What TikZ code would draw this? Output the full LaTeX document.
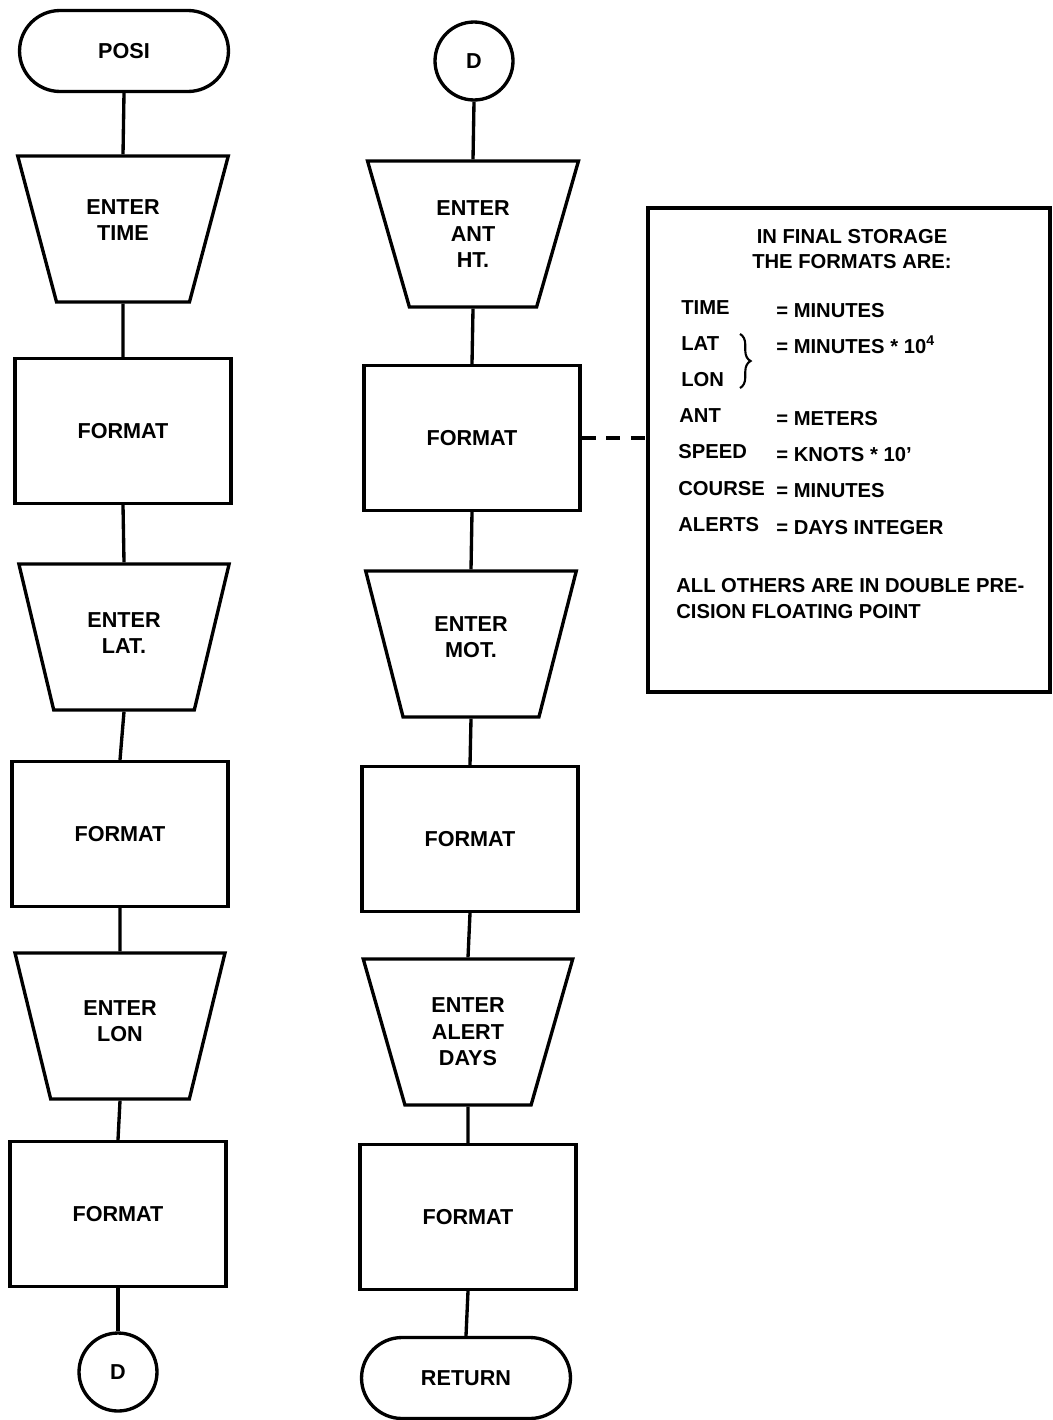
\documentclass[tikz,border=0pt]{standalone}
\usepackage{fontspec}
\setmainfont{Liberation Sans}
\usetikzlibrary{positioning,shapes.geometric,shapes.misc,decorations.pathreplacing}

\tikzset{
  flow/.style={draw, line width=1.9pt, align=center, inner sep=2pt,
    font=\fontsize{12.3}{15}\selectfont\bfseries},
  termbox/.style={flow, rounded rectangle, minimum width=4.32cm, minimum height=1.62cm},
  enterbox/.style={flow, trapezium, shape border rotate=180,
    trapezium left angle=70.5, trapezium right angle=70.5, trapezium stretches=true,
    minimum width=4.22cm, minimum height=2.92cm},
  formatbox/.style={flow, rectangle, minimum width=4.32cm, minimum height=2.9cm},
  connbox/.style={flow, circle, minimum size=1.56cm},
  link/.style={line width=1.9pt},
  notetext/.style={font=\fontsize{11.5}{14.5}\selectfont\bfseries, inner sep=0pt},
}

\begin{document}
\begin{tikzpicture}[x=0.02cm, y=-0.02cm]
  \useasboundingbox (0,0) rectangle (1052,1420);

  % Left column
  \node[termbox]   (posi) at (124,51)   {POSI};
  \node[enterbox]  (t1)   at (123,229)  {ENTER\\TIME\\[-4.8pt]};
  \node[formatbox] (f1)   at (123,431)  {FORMAT};
  \node[enterbox]  (t2)   at (124,637)  {ENTER\\LAT.\\[-10.5pt]};
  \node[formatbox] (f2)   at (120,834)  {FORMAT};
  \node[enterbox]  (t3)   at (120,1026) {ENTER\\LON\\[-9.3pt]};
  \node[formatbox] (f3)   at (118,1214) {FORMAT};
  \node[connbox]   (d1)   at (118,1372) {D};

  % Right column
  \node[connbox]   (d2)   at (474,61)   {D};
  \node[enterbox]  (t4)   at (473,234)  {ENTER\\ANT\\HT.};
  \node[formatbox] (f4)   at (472,438)  {FORMAT};
  \node[enterbox]  (t5)   at (471,644)  {ENTER\\MOT.\\[-7pt]};
  \node[formatbox] (f5)   at (470,839)  {FORMAT};
  \node[enterbox]  (t6)   at (468,1032) {ENTER\\ALERT\\DAYS};
  \node[formatbox] (f6)   at (468,1217) {FORMAT};
  \node[termbox]   (ret)  at (466,1378) {RETURN};

  % Flow lines
  \foreach \a/\b in {posi/t1, t1/f1, f1/t2, t2/f2, f2/t3, t3/f3, f3/d1,
                     d2/t4, t4/f4, f4/t5, t5/f5, f5/t6, t6/f6, f6/ret}
    \draw[link] (\a.south) -- (\b.north);

  % Storage note
  \node[draw, line width=1.9pt, minimum width=8.04cm, minimum height=9.68cm] (note) at (849,450) {};
  \draw[link, dash pattern=on 8pt off 6pt] (f4.east) -- (f4.east -| note.west);

  \node[notetext, align=center] (title) at (852,249) {IN FINAL STORAGE\\THE FORMATS ARE:};
  \node[notetext, anchor=base west] (ktime)   at (681,314) {TIME};
  \node[notetext, anchor=base west] (klat)    at (681,350) {LAT};
  \node[notetext, anchor=base west] (klon)    at (681,386) {LON};
  \node[notetext, anchor=base west] (kant)    at (679,422) {ANT};
  \node[notetext, anchor=base west] (kspeed)  at (678,458) {SPEED};
  \node[notetext, anchor=base west] (kcourse) at (678,495) {COURSE};
  \node[notetext, anchor=base west] (kalerts) at (678,531) {ALERTS};
  \node[notetext, anchor=base west] (vtime)   at (776,317) {= MINUTES};
  \node[notetext, anchor=base west] (vlat)    at (776,353) {= MINUTES * 10\textsuperscript{4}};
  \node[notetext, anchor=base west] (vant)    at (776,425) {= METERS};
  \node[notetext, anchor=base west] (vspeed)  at (776,461) {= KNOTS * 10\textquoteright};
  \node[notetext, anchor=base west] (vcourse) at (776,497) {= MINUTES};
  \node[notetext, anchor=base west] (valerts) at (776,534) {= DAYS INTEGER};
  \draw[line width=1.2pt, decorate, decoration={brace, amplitude=6pt}] (740,334) -- (740,388);
  \node[notetext, anchor=base west] (others1) at (676,592) {ALL OTHERS ARE IN DOUBLE PRE-};
  \node[notetext, anchor=base west] (others2) at (676,618) {CISION FLOATING POINT};
\end{tikzpicture}
\end{document}
